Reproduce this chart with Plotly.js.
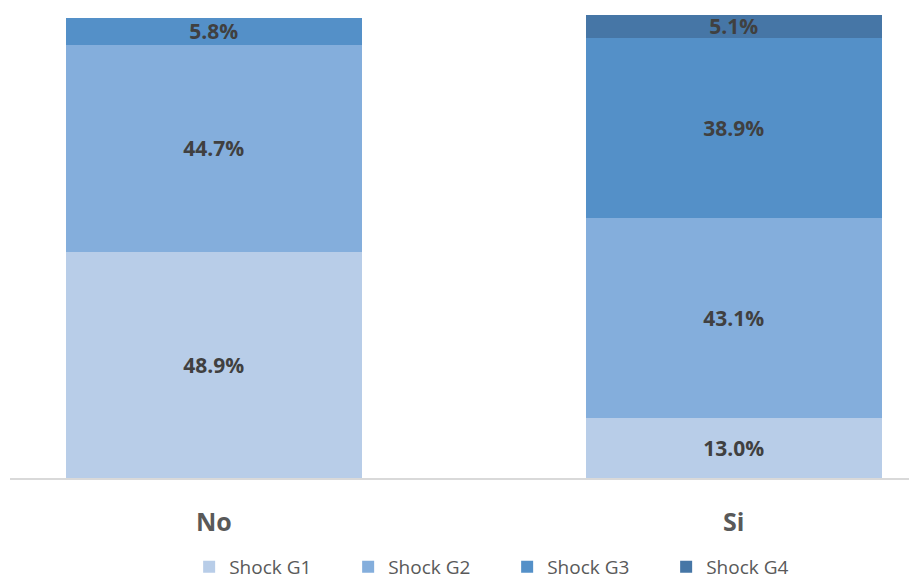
<!DOCTYPE html>
<html><head><meta charset="utf-8">
<script src="https://cdn.plot.ly/plotly-3.0.1.min.js"></script>
<style>body{margin:0;background:#fff}#c{width:909px;height:580px}</style>
</head><body><div id="c"></div>
<script>
const categories = ["No", "Si"];
const seriesNames = ["Shock G1", "Shock G2", "Shock G3", "Shock G4"];
const g1 = [48.9, 13.0];
const g2 = [44.7, 43.1];
const g3 = [5.8, 38.9];
const g4 = [null, 5.1];
const colors = ["#B8CDE8", "#84AEDC", "#5490C8", "#4676A6"];
const values = [g1, g2, g3, g4];

const traces = values.map((v, i) => ({
  type: "bar",
  name: seriesNames[i],
  x: categories,
  y: v,
  text: v.map(d => d == null ? "" : d.toFixed(1) + "%"),
  texttemplate: "%{text}",
  textposition: "inside",
  insidetextanchor: "middle",
  textangle: 0,
  constraintext: "none",
  insidetextfont: {family: "Open Sans, Lato, sans-serif", size: 21, color: "#404040", weight: "bold"},
  marker: {color: colors[i], line: {width: 0}},
  width: 0.57,
  hoverinfo: "skip"
}));

const layout = {
  width: 909, height: 580,
  margin: {l: 10, r: 0, t: 15, b: 102, autoexpand: false},
  barmode: "stack",
  paper_bgcolor: "#fff", plot_bgcolor: "#fff",
  showlegend: true,
  legend: {orientation: "h", x: 0.553, xanchor: "center", y: -0.192, yanchor: "middle",
           font: {family: "Open Sans, Lato, sans-serif", size: 19, color: "#595959"},
           entrywidth: 114, entrywidthmode: "pixels", itemwidth: 20, traceorder: "normal"},
  xaxis: {type: "category", range: [-0.392, 1.337], showline: true, linecolor: "#D9D9D9", linewidth: 1.5,
          ticks: "", showgrid: false, zeroline: false, automargin: false, ticklabelstandoff: 21,
          tickfont: {family: "Open Sans, Lato, sans-serif", size: 25, color: "#595959", weight: "bold"}},
  yaxis: {range: [0, 100], visible: false, showgrid: false, zeroline: false},
  uniformtext: {mode: false}
};
Plotly.newPlot("c", traces, layout, {displayModeBar: false, staticPlot: true});
</script></body></html>
